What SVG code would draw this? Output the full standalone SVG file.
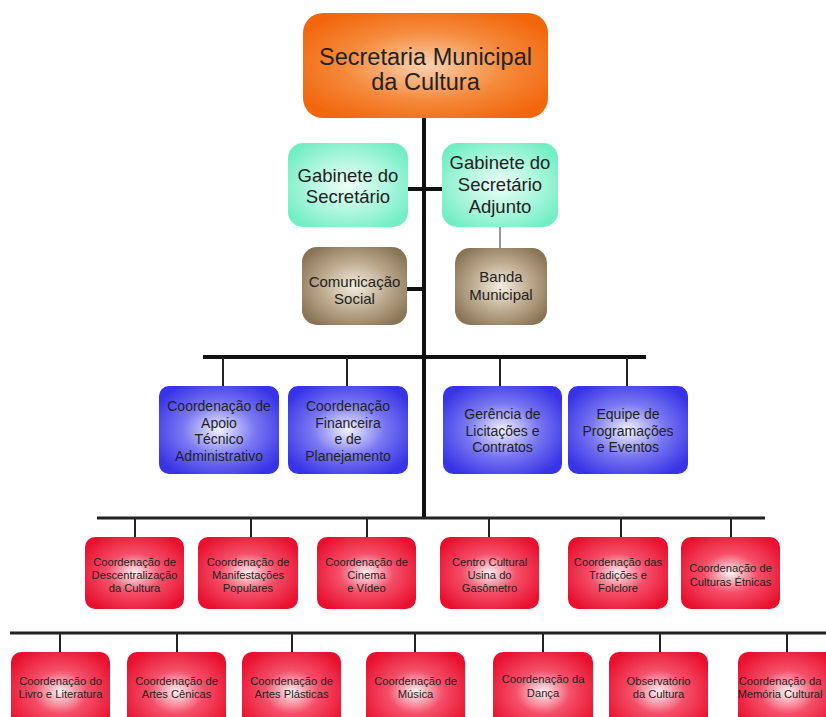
<svg xmlns="http://www.w3.org/2000/svg" width="826" height="717" viewBox="0 0 826 717">
<defs>
<radialGradient id="gOrange" cx="50%" cy="50%" r="60%"><stop offset="0" stop-color="#fad2b0"/><stop offset="0.55" stop-color="#f58a3c"/><stop offset="1" stop-color="#f2660c"/></radialGradient>
<radialGradient id="gGreen" cx="50%" cy="50%" r="60%"><stop offset="0" stop-color="#eefff8"/><stop offset="0.6" stop-color="#a6f5da"/><stop offset="1" stop-color="#72eec4"/></radialGradient>
<radialGradient id="gBrown" cx="50%" cy="50%" r="60%"><stop offset="0" stop-color="#f4ede0"/><stop offset="0.55" stop-color="#bba88c"/><stop offset="1" stop-color="#8a7456"/></radialGradient>
<radialGradient id="gBlue" cx="50%" cy="50%" r="60%"><stop offset="0" stop-color="#f2f2ff"/><stop offset="0.5" stop-color="#7a78f2"/><stop offset="1" stop-color="#3733e6"/></radialGradient>
<radialGradient id="gRed" cx="50%" cy="50%" r="60%"><stop offset="0" stop-color="#fff2f4"/><stop offset="0.45" stop-color="#f5506a"/><stop offset="1" stop-color="#e8102e"/></radialGradient>
<style>
text{font-family:"Liberation Sans",Arial,sans-serif;fill:#222;text-anchor:middle}
.top{font-size:23.5px}
.gr{font-size:18.5px}
.br{font-size:15px}
.bl{font-size:14px}
.rd{font-size:11.2px}
.bus{stroke:#111;stroke-width:4;fill:none}
.bus2{stroke:#222;stroke-width:3;fill:none}
.drop{stroke:#222;stroke-width:2;fill:none}
.thin{stroke:#777;stroke-width:1.5;fill:none}
</style>
</defs>
<rect width="826" height="717" fill="#fff"/>
<g id="connectors">
<line class="bus" x1="424" y1="118" x2="424" y2="518"/>
<line class="bus" x1="408" y1="189" x2="442" y2="189"/>
<line class="bus" x1="407" y1="289" x2="424" y2="289"/>
<line class="thin" x1="500" y1="227" x2="500" y2="248"/>
<line class="bus" x1="203" y1="357" x2="646" y2="357"/>
<line class="drop" x1="223" y1="357" x2="223" y2="386"/>
<line class="drop" x1="347" y1="357" x2="347" y2="386"/>
<line class="drop" x1="500" y1="357" x2="500" y2="386"/>
<line class="drop" x1="627" y1="357" x2="627" y2="386"/>
<line class="bus2" x1="97" y1="518" x2="765" y2="518"/>
<line class="drop" x1="135" y1="518" x2="135" y2="537"/>
<line class="drop" x1="251" y1="518" x2="251" y2="537"/>
<line class="drop" x1="367" y1="518" x2="367" y2="537"/>
<line class="drop" x1="489" y1="518" x2="489" y2="537"/>
<line class="drop" x1="621" y1="518" x2="621" y2="537"/>
<line class="drop" x1="731" y1="518" x2="731" y2="537"/>
<line class="bus2" x1="10" y1="633" x2="826" y2="633"/>
<line class="drop" x1="60" y1="633" x2="60" y2="652"/>
<line class="drop" x1="177" y1="633" x2="177" y2="652"/>
<line class="drop" x1="292" y1="633" x2="292" y2="652"/>
<line class="drop" x1="415" y1="633" x2="415" y2="652"/>
<line class="drop" x1="543" y1="633" x2="543" y2="652"/>
<line class="drop" x1="660" y1="633" x2="660" y2="652"/>
<line class="drop" x1="787" y1="633" x2="787" y2="652"/>
</g>
<g id="secretaria"><rect x="303" y="13" width="245" height="105" rx="20" fill="url(#gOrange)"/><text class="top" x="425.5" y="65">Secretaria Municipal</text><text class="top" x="425.5" y="90">da Cultura</text></g>
<g id="gabinete"><rect x="288" y="143" width="120" height="84" rx="15" fill="url(#gGreen)"/><text class="gr" x="348" y="181.5">Gabinete do</text><text class="gr" x="348" y="202.5">Secretário</text></g>
<g id="gabinete-adjunto"><rect x="442" y="143" width="116" height="84" rx="15" fill="url(#gGreen)"/><text class="gr" x="500" y="168.5">Gabinete do</text><text class="gr" x="500" y="190.5">Secretário</text><text class="gr" x="500" y="212.5">Adjunto</text></g>
<g id="comunicacao"><rect x="302" y="247" width="105" height="78" rx="15" fill="url(#gBrown)"/><text class="br" x="354.5" y="287">Comunicação</text><text class="br" x="354.5" y="304">Social</text></g>
<g id="banda"><rect x="455" y="248" width="92" height="77" rx="15" fill="url(#gBrown)"/><text class="br" x="501" y="282">Banda</text><text class="br" x="501" y="300">Municipal</text></g>
<g id="apoio"><rect x="159" y="386" width="120" height="88" rx="10" fill="url(#gBlue)"/><text class="bl" x="219" y="411">Coordenação de</text><text class="bl" x="219" y="427.7">Apoio</text><text class="bl" x="219" y="444.3">Técnico</text><text class="bl" x="219" y="461">Administrativo</text></g>
<g id="financeira"><rect x="288" y="386" width="120" height="88" rx="10" fill="url(#gBlue)"/><text class="bl" x="348" y="411">Coordenação</text><text class="bl" x="348" y="427.7">Financeira</text><text class="bl" x="348" y="444.3">e de</text><text class="bl" x="348" y="461">Planejamento</text></g>
<g id="licitacoes"><rect x="443" y="386" width="119" height="88" rx="10" fill="url(#gBlue)"/><text class="bl" x="502.5" y="419">Gerência de</text><text class="bl" x="502.5" y="435.7">Licitações e</text><text class="bl" x="502.5" y="452.3">Contratos</text></g>
<g id="programacoes"><rect x="568" y="386" width="120" height="88" rx="10" fill="url(#gBlue)"/><text class="bl" x="628" y="419">Equipe de</text><text class="bl" x="628" y="435.7">Programações</text><text class="bl" x="628" y="452.3">e Eventos</text></g>
<g id="descentralizacao"><rect x="85" y="537" width="99" height="72" rx="10" fill="url(#gRed)"/><text class="rd" x="134.5" y="566">Coordenação de</text><text class="rd" x="134.5" y="579">Descentralização</text><text class="rd" x="134.5" y="592">da Cultura</text></g>
<g id="manifestacoes"><rect x="198" y="537" width="100" height="72" rx="10" fill="url(#gRed)"/><text class="rd" x="248" y="566">Coordenação de</text><text class="rd" x="248" y="579">Manifestações</text><text class="rd" x="248" y="592">Populares</text></g>
<g id="cinema"><rect x="317" y="537" width="99" height="72" rx="10" fill="url(#gRed)"/><text class="rd" x="366.5" y="566">Coordenação de</text><text class="rd" x="366.5" y="579">Cinema</text><text class="rd" x="366.5" y="592">e Vídeo</text></g>
<g id="usina"><rect x="440" y="537" width="99" height="72" rx="10" fill="url(#gRed)"/><text class="rd" x="489.5" y="566">Centro Cultural</text><text class="rd" x="489.5" y="579">Usina do</text><text class="rd" x="489.5" y="592">Gasômetro</text></g>
<g id="tradicoes"><rect x="568" y="537" width="100" height="72" rx="10" fill="url(#gRed)"/><text class="rd" x="618" y="566">Coordenação das</text><text class="rd" x="618" y="579">Tradições e</text><text class="rd" x="618" y="592">Folclore</text></g>
<g id="etnicas"><rect x="681" y="537" width="99" height="72" rx="10" fill="url(#gRed)"/><text class="rd" x="730.5" y="572">Coordenação de</text><text class="rd" x="730.5" y="585.5">Culturas Étnicas</text></g>
<g id="livro"><rect x="11" y="652" width="99" height="80" rx="10" fill="url(#gRed)"/><text class="rd" x="60.5" y="685">Coordenação do</text><text class="rd" x="60.5" y="698.3">Livro e Literatura</text></g>
<g id="cenicas"><rect x="127" y="652" width="99" height="80" rx="10" fill="url(#gRed)"/><text class="rd" x="176.5" y="685">Coordenação de</text><text class="rd" x="176.5" y="698.3">Artes Cênicas</text></g>
<g id="plasticas"><rect x="242" y="652" width="99" height="80" rx="10" fill="url(#gRed)"/><text class="rd" x="291.5" y="685">Coordenação de</text><text class="rd" x="291.5" y="698.3">Artes Plásticas</text></g>
<g id="musica"><rect x="366" y="652" width="99" height="80" rx="10" fill="url(#gRed)"/><text class="rd" x="415.5" y="685">Coordenação de</text><text class="rd" x="415.5" y="698.3">Música</text></g>
<g id="danca"><rect x="493" y="652" width="100" height="80" rx="10" fill="url(#gRed)"/><text class="rd" x="543" y="683.3">Coordenação da</text><text class="rd" x="543" y="696.7">Dança</text></g>
<g id="observatorio"><rect x="609" y="652" width="99" height="80" rx="10" fill="url(#gRed)"/><text class="rd" x="658.5" y="685">Observatório</text><text class="rd" x="658.5" y="698.3">da Cultura</text></g>
<g id="memoria"><rect x="738" y="652" width="99" height="80" rx="10" fill="url(#gRed)"/><text class="rd" x="780" y="685">Coordenação da</text><text class="rd" x="780" y="698.3">Memória Cultural</text></g>
</svg>
